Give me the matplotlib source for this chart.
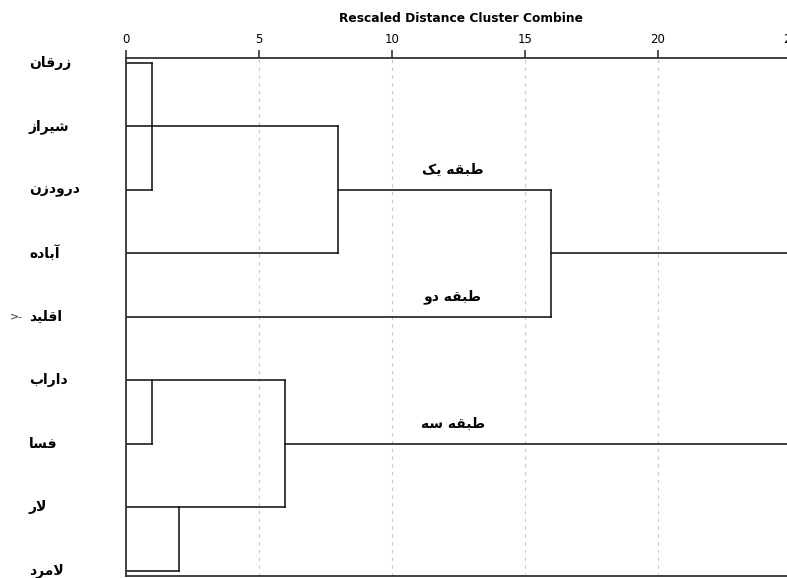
import matplotlib
matplotlib.use('Agg')
import matplotlib.pyplot as plt

# Leaves, top to bottom.
cities = ['زرقان', 'شیراز', 'درودزن', 'آباده', 'اقلید',
          'داراب', 'فسا', 'لار', 'لامرد']

# Horizontal pieces of the tree: row, start distance, end distance.
h_row = [0, 1, 2, 2, 3, 3, 4, 5, 6, 6, 7, 8]
h_start = [0, 0, 0, 8, 0, 16, 0, 0, 0, 6, 0, 0]
h_end = [1, 8, 1, 16, 8, 25, 16, 6, 1, 25, 6, 2]

# Vertical joins: distance, top row, bottom row.
v_dist = [1, 8, 16, 1, 6, 2]
v_top = [0, 1, 2, 5, 5, 7]
v_bottom = [2, 3, 4, 6, 7, 8]

groups = ['طبقه یک', 'طبقه دو', 'طبقه سه']
group_rows = [2, 4, 6]
group_dist = 12.3

ticks = [0, 5, 10, 15, 20, 25]
marked_city = 'اقلید'

# Arabic presentation forms: isolated, final, initial, medial.
_FORMS = {
    'ا': ('\uFE8D', '\uFE8E', None, None),
    'آ': ('\uFE81', '\uFE82', None, None),
    'ب': ('\uFE8F', '\uFE90', '\uFE91', '\uFE92'),
    'د': ('\uFEA9', '\uFEAA', None, None),
    'ر': ('\uFEAD', '\uFEAE', None, None),
    'ز': ('\uFEAF', '\uFEB0', None, None),
    'س': ('\uFEB1', '\uFEB2', '\uFEB3', '\uFEB4'),
    'ش': ('\uFEB5', '\uFEB6', '\uFEB7', '\uFEB8'),
    'ط': ('\uFEC1', '\uFEC2', '\uFEC3', '\uFEC4'),
    'ف': ('\uFED1', '\uFED2', '\uFED3', '\uFED4'),
    'ق': ('\uFED5', '\uFED6', '\uFED7', '\uFED8'),
    'ل': ('\uFEDD', '\uFEDE', '\uFEDF', '\uFEE0'),
    'م': ('\uFEE1', '\uFEE2', '\uFEE3', '\uFEE4'),
    'ن': ('\uFEE5', '\uFEE6', '\uFEE7', '\uFEE8'),
    'ه': ('\uFEE9', '\uFEEA', '\uFEEB', '\uFEEC'),
    'و': ('\uFEED', '\uFEEE', None, None),
    'ی': ('\uFBFC', '\uFBFD', '\uFBFE', '\uFBFF'),
    'ک': ('\uFB8E', '\uFB8F', '\uFB90', '\uFB91'),
}
_LAM_ALEF = {'ا': ('\uFEFB', '\uFEFC'), 'آ': ('\uFEF5', '\uFEF6')}


def _joins_next(ch):
    return ch in _FORMS and _FORMS[ch][2] is not None


def shape(text):
    """Joins Persian letters and reverses them for left-to-right drawing."""
    out = []
    i = 0
    n = len(text)
    while i < n:
        ch = text[i]
        prev = i > 0 and _joins_next(text[i - 1])
        if ch not in _FORMS:
            out.append(ch)
            i += 1
            continue
        if ch == 'ل' and i + 1 < n and text[i + 1] in _LAM_ALEF:
            out.append(_LAM_ALEF[text[i + 1]][1 if prev else 0])
            i += 2
            continue
        nxt = i + 1 < n and text[i + 1] in _FORMS and _joins_next(ch)
        iso, fin, ini, med = _FORMS[ch]
        if prev and nxt:
            out.append(med)
        elif prev:
            out.append(fin)
        elif nxt:
            out.append(ini)
        else:
            out.append(iso)
        i += 1
    return ''.join(reversed(out))


def main():
    fig = plt.figure(figsize=(7.87, 5.78), dpi=100)
    ax = fig.add_axes([0.1597, 0.0035, 0.845, 0.897])

    line_kw = dict(color='#141414', lw=1.15, capstyle='projecting')
    ax.hlines(h_row, h_start, h_end, **line_kw)
    ax.vlines(v_dist, v_top, v_bottom, **line_kw)

    for t in ticks[1:-1]:
        ax.axvline(t, color='#c8c8c8', lw=0.8, ls=(0, (3, 4)), zorder=0)

    ax.set_xlim(0, 25)
    ax.set_ylim(8.08, -0.08)

    ax.xaxis.tick_top()
    ax.set_xticks(ticks)
    ax.tick_params(axis='x', direction='out', length=6, width=1.2,
                   color='#333333', pad=2, labelsize=8.5)
    ax.set_yticks([])
    for side in ['top', 'left', 'bottom']:
        ax.spines[side].set_color('#333333')
        ax.spines[side].set_linewidth(1.3)
    ax.spines['right'].set_visible(False)

    for row, name in enumerate(cities):
        y = 1 - (62.7 + row * 63.5) / 578
        fig.text(29 / 787, y, shape(name), ha='left', va='center',
                 fontsize=10, fontweight='bold', family='DejaVu Sans')
        if name == marked_city:
            fig.text(10 / 787, y, '>-', ha='left', va='center',
                     fontsize=8, color='#333333')

    for name, row in zip(groups, group_rows):
        ax.text(group_dist, row - 0.31, shape(name), ha='center',
                va='center', fontsize=10, fontweight='bold')

    fig.text(461 / 787, 1 - 19 / 578, 'Rescaled Distance Cluster Combine',
             ha='center', va='center', fontsize=8.8, fontweight='bold')

    fig.savefig('out.png', dpi=100)
    plt.close(fig)


if __name__ == '__main__':
    main()
